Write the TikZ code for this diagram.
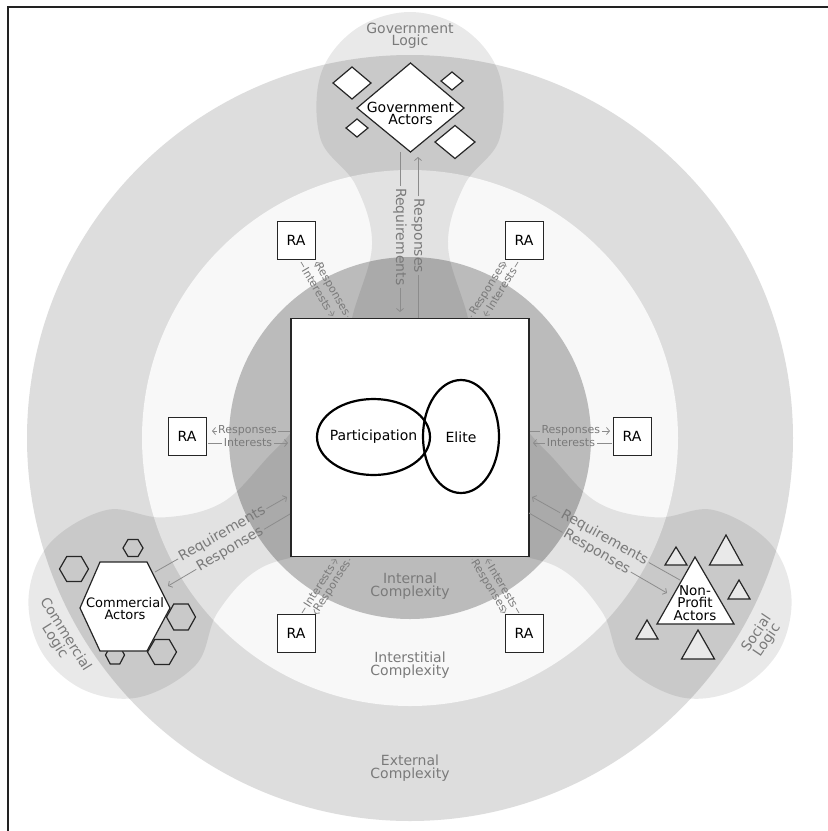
\documentclass[tikz,border=0pt]{standalone}
\usepackage{fontspec}
\setmainfont{DejaVu Sans}
\usetikzlibrary{arrows.meta}
\definecolor{extc}{HTML}{DDDDDD}
\definecolor{midc}{HTML}{F8F8F8}
\definecolor{inc}{HTML}{BBBBBB}
\definecolor{lblc}{HTML}{7A7A7A}
\definecolor{conc}{HTML}{8C8C8C}
\definecolor{framec}{HTML}{222222}

\newcommand\lconn[6]{%
  \coordinate (#6s) at (#3);
  \coordinate (#6e) at (#4);
  \path (#6s) -- node[#1, pos=#2] (#6) {#5} (#6e);
  \draw[conline] (#6s) -- (#6);
  \draw[conline, arr] (#6) -- (#6e);
}
\newcommand\hexa[4]{\draw[smallshape] ({#1-#3/2},#2) -- ({#1-#3/4},{#2-#4/2}) -- ({#1+#3/4},{#2-#4/2}) -- ({#1+#3/2},#2) -- ({#1+#3/4},{#2+#4/2}) -- ({#1-#3/4},{#2+#4/2}) -- cycle;}
\newcommand\dmd[4]{\draw[bigshape] ({#1-#3/2},#2) -- (#1,{#2-#4/2}) -- ({#1+#3/2},#2) -- (#1,{#2+#4/2}) -- cycle;}
\newcommand\trig[4]{\draw[trishape] (#1,#2) -- ({#1+#3},#4) -- ({#1-#3},#4) -- cycle;}

\begin{document}
\begin{tikzpicture}[x=1pt,y=-1pt,
  ringlbl/.style={text=lblc, font=\fontsize{14}{12.5}\selectfont, align=center, inner sep=0pt},
  conlbl/.style={text=lblc, font=\fontsize{11}{11}\selectfont, sloped, inner xsep=1.5pt, inner ysep=0pt},
  biglbl/.style={text=lblc, font=\fontsize{14}{14}\selectfont, sloped, inner xsep=2pt, inner ysep=0pt},
  conline/.style={draw=conc, line width=0.8pt},
  arr/.style={-{Straight Barb[length=3pt,width=7pt]}},
  logicfill/.style={fill=black, fill opacity=0.085},
  bigshape/.style={draw=black!85, fill=white, line width=1.2pt, line join=miter},
  smallshape/.style={draw=black!85, line width=1.2pt, line join=miter},
  trishape/.style={draw=black!85, fill=white, fill opacity=0.6, line width=1.2pt, line join=miter},
  rabox/.style={draw=black!85, fill=white, line width=1pt, minimum size=38pt, inner sep=0pt, font=\fontsize{14}{14}\selectfont},
  actorlbl/.style={font=\fontsize{14}{12}\selectfont, align=center, inner sep=0pt}
]
\useasboundingbox (0,0) rectangle (828,831);
\fill[white] (0,0) rectangle (828,831);
% complexity rings
\fill[extc] (410,438) circle[radius=383pt];
\fill[midc] (410,438) circle[radius=268pt];
\fill[inc] (410,438) circle[radius=181pt];
% logic regions
\foreach \a in {0,120,-120}{
  \begin{scope}[rotate around={\a:(410,438)}]
    \fill[logicfill] plot[smooth cycle, tension=0.6] coordinates {(464.5,184.8) (499.3,139.5) (499.3,74.5) (464.5,29.2) (410,12) (355.5,29.2) (320.7,74.5) (320.7,139.5) (355.5,184.8) (372,245) (352,318) (335,400) (410,430) (485,400) (468,318) (448,245)};
  \end{scope}
}
% ring labels
\node[ringlbl] (intl) at (410,586) {Internal\\Complexity};
\node[ringlbl] (istl) at (410,665) {Interstitial\\Complexity};
\node[ringlbl] (extl) at (410,768) {External\\Complexity};
\node[ringlbl] (govl) at (410,36) {Government\\Logic};
\node[ringlbl, rotate=-58] (coml) at (60,638) {Commercial\\Logic};
\node[ringlbl, rotate=56] (socl) at (762,637) {Social\\Logic};
% core
\node[draw=black!85, fill=white, line width=1.3pt, minimum size=238pt, inner sep=0pt] (core) at (410,437.5) {};
\draw[line width=2.2pt] (373.5,437) ellipse[x radius=56.5pt, y radius=38pt];
\draw[line width=2.2pt] (461,436.5) ellipse[x radius=38pt, y radius=56.5pt];
\node[actorlbl] (part) at (373.5,437) {Participation};
\node[actorlbl] (elite) at (461,437) {Elite};
% RA boxes
\node[rabox] (ra1) at (296,240) {RA};
\node[rabox] (ra2) at (524,240) {RA};
\node[rabox] (ra3) at (187,436) {RA};
\node[rabox] (ra4) at (632,436) {RA};
\node[rabox] (ra5) at (296,633) {RA};
\node[rabox] (ra6) at (524,633) {RA};
% RA connectors
\lconn{conlbl}{0.545}{290,431}{212,431}{Responses}{lres}
\lconn{conlbl}{0.5}{208,443}{288,443}{Interests}{lint}
\lconn{conlbl}{0.51}{530,431}{610,431}{Responses}{rres}
\lconn{conlbl}{0.52}{612,443}{533,443}{Interests}{rint}
\lconn{conlbl}{0.5}{301,262}{333,316}{Interests}{tlint}
\lconn{conlbl}{0.5}{348,317}{316,262}{Responses}{tlres}
\lconn{conlbl}{0.5}{471,317}{505,262}{Responses}{trres}
\lconn{conlbl}{0.5}{518,262}{485,316}{Interests}{trint}
\lconn{conlbl}{0.5}{302,613}{336,559}{Interests}{blint}
\lconn{conlbl}{0.5}{350,559}{315,614}{Responses}{blres}
\lconn{conlbl}{0.5}{519,613}{487,559}{Interests}{brint}
\lconn{conlbl}{0.5}{472,559}{505,613}{Responses}{brres}
% logic connectors
\lconn{biglbl}{0.53}{400,152}{400,312}{Requirements}{greq}
\lconn{biglbl,rotate=180}{0.51}{418,318}{418,157}{Responses}{gres}
\lconn{biglbl}{0.51}{155,572}{287,497}{Requirements}{creq}
\lconn{biglbl}{0.49}{290,514}{168,586}{Responses}{cres}
\lconn{biglbl}{0.51}{680,580}{532,497}{Requirements}{sreq}
\lconn{biglbl}{0.49}{529,513}{667,593}{Responses}{sres}
% government actors
\dmd{352}{83}{38}{32}
\dmd{452}{81}{22}{18}
\dmd{357}{128}{22}{18}
\dmd{455}{142}{40}{33}
\draw[bigshape] (357,108) -- (410.5,63) -- (464,108) -- (410.5,152) -- cycle;
\node[actorlbl] (gov) at (410.5,113.5) {Government\\Actors};
% commercial actors
\hexa{133}{548}{20}{17}
\hexa{74}{569}{29}{25}
\hexa{181}{617}{29}{26}
\hexa{115}{655}{19}{18}
\hexa{162}{652}{29}{25}
\draw[bigshape] (80,608) -- (100,562) -- (147,562) -- (170,608) -- (147,651) -- (100,651) -- cycle;
\node[actorlbl, font=\fontsize{13}{12}\selectfont] (com) at (125,609) {Commercial\\Actors};
% non-profit actors
\trig{676}{547}{11}{565}
\trig{726}{535}{16.5}{565}
\trig{739}{580}{11}{599}
\trig{647}{620}{11}{639}
\trig{698}{630}{16.5}{659}
\draw[bigshape] (695,557) -- (734,624) -- (657,624) -- cycle;
\node[actorlbl, font=\fontsize{13.5}{12.3}\selectfont] (npo) at (695,603) {Non-\\Profit\\Actors};
% frame
\draw[framec, line width=2pt] (8,831) -- (8,7) -- (828,7);
\end{tikzpicture}
\end{document}
